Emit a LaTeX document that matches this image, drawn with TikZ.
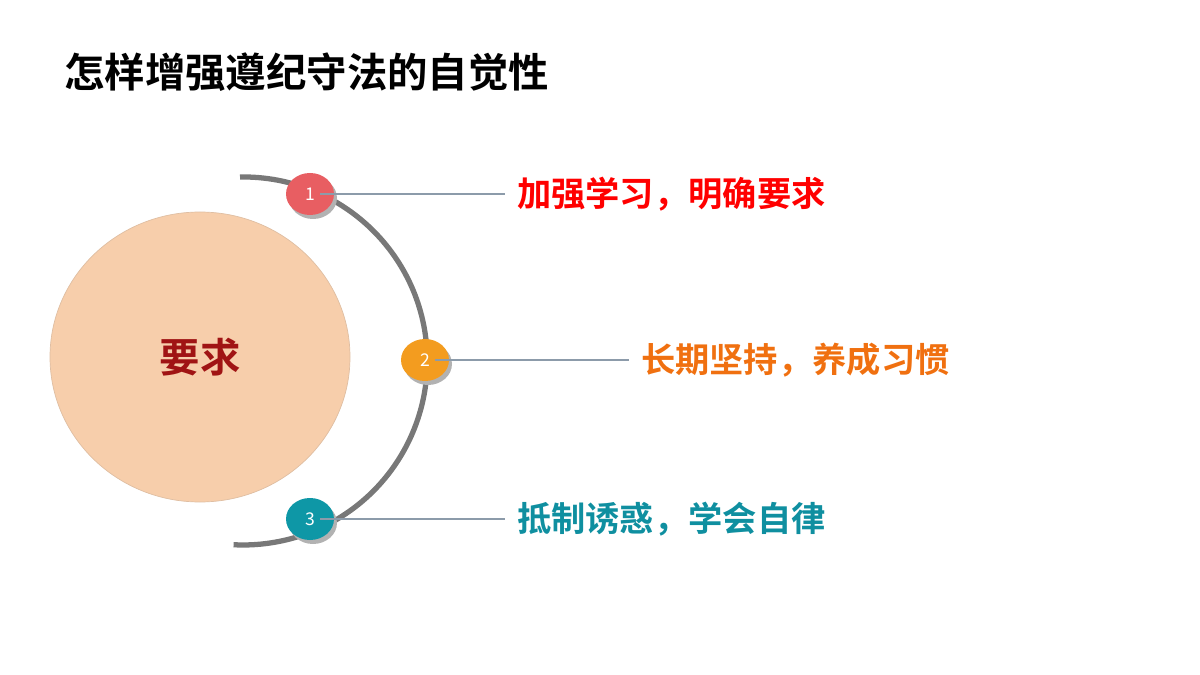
\documentclass[tikz,border=0pt]{standalone}
\usepackage{fontspec}
\newfontfamily\cjk{Noto Sans CJK SC}[BoldFont={Noto Sans CJK SC Bold}]
\usetikzlibrary{positioning,calc}
\definecolor{peach}{RGB}{247,206,171}
\definecolor{darkred}{RGB}{160,20,20}
\definecolor{arcgray}{RGB}{120,120,120}
\definecolor{redA}{RGB}{232,94,98}
\definecolor{orangeA}{RGB}{243,156,31}
\definecolor{tealA}{RGB}{14,151,166}
\definecolor{txtred}{RGB}{255,0,0}
\definecolor{txtorange}{RGB}{240,112,16}
\definecolor{txtteal}{RGB}{15,143,160}
\definecolor{linegray}{RGB}{140,155,170}
\tikzset{
  dot/.style={ellipse,minimum width=48\tikzpxl,minimum height=42\tikzpxl,inner sep=0pt,text=white,font=\cjk\fontsize{10}{12}\selectfont},
  item/.style={anchor=west,font=\cjk\bfseries\fontsize{19.5}{22}\selectfont},
  link/.style={linegray,line width=0.6pt}
}
\newlength\tikzpxl
\setlength\tikzpxl{0.02cm}
\usetikzlibrary{shapes.geometric}
\begin{document}
\begin{tikzpicture}[x=0.02cm,y=-0.02cm]
  \useasboundingbox (0,0) rectangle (1200,675);
  % title
  \node[anchor=west,font=\cjk\bfseries\fontsize{23}{26}\selectfont] (title) at (58,72) {怎样增强遵纪守法的自觉性};
  % centre
  \node[ellipse,fill=peach,draw=peach!80!gray,minimum width=300\tikzpxl,minimum height=290\tikzpxl] (core) at (200,357) {};
  \node[font=\cjk\bfseries\fontsize{23}{26}\selectfont,text=darkred] at (core) {要求};
  % arc
  \draw[arcgray,line width=3pt] (240,177) arc[start angle=-91,end angle=93,radius=184];
  % items
  \foreach \n/\x/\y/\c/\tx/\tc/\t in {1/310/194/redA/511/txtred/加强学习，明确要求,
      2/425/360/orangeA/635/txtorange/长期坚持，养成习惯,
      3/310/519/tealA/511/txtteal/抵制诱惑，学会自律}{
    \fill[black!30] (\x+3,\y+4) ellipse[x radius=24,y radius=21];
    \node[dot,fill=\c] (d\n) at (\x,\y) {\n};
    \node[item,text=\tc] (t\n) at (\tx,\y) {\t};
    \draw[link] (d\n.center) ++(10,0) -- ($(t\n.west)+(-6,0)$);
  }
\end{tikzpicture}
\end{document}
